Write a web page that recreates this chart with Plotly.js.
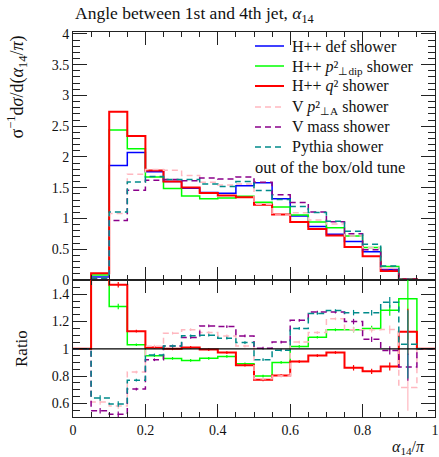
<!DOCTYPE html>
<html><head><meta charset="utf-8">
<script src="https://cdn.plot.ly/plotly-3.0.1.min.js"></script>
<style>html,body{margin:0;padding:0;background:#fff}#chart{width:439px;height:457px}</style>
</head><body><div id="chart"></div>
<script>
// left edges of the 20 bins in alpha14/pi
const binLow = [0,0.05,0.1,0.15,0.2,0.25,0.3,0.35,0.4,0.45,0.5,0.55,0.6,0.65,0.7,0.75,0.8,0.85,0.9,0.95];
const binHigh = 1.0;

// normalised distributions, one value per bin
const hppDef   = [0,0.05,1.86,2.07,1.76,1.60,1.49,1.42,1.41,1.53,1.58,1.32,1.04,0.87,0.745,0.625,0.46,0.17,0.012,0];
const hppPtDip = [0,0.08,2.437,2.132,1.672,1.488,1.363,1.321,1.332,1.362,1.264,1.188,1.058,0.944,0.849,0.713,0.529,0.218,0.0164,0];
const hppQ2    = [0,0.11,2.734,2.339,1.778,1.60,1.505,1.413,1.372,1.346,1.221,1.063,0.943,0.827,0.725,0.538,0.384,0.148,0.0135,0];
const vPtA     = [0,0.0305,1.079,1.718,1.795,1.784,1.699,1.590,1.544,1.561,1.232,1.056,1.092,0.974,0.909,0.713,0.524,0.194,0.0086,0];
const vMass    = [0,0.0273,0.967,1.459,1.619,1.632,1.614,1.659,1.640,1.675,1.588,1.386,1.258,1.105,0.946,0.75,0.492,0.168,0.0104,0];
const pythia   = [0,0.032,1.107,1.594,1.681,1.632,1.632,1.562,1.520,1.600,1.454,1.307,1.196,1.096,0.954,0.791,0.582,0.228,0.0124,0];

// uncertainties on the ratios (per bin)
const errPtDip = [0,0.02,0.02,0.01,0.01,0.01,0.01,0.01,0.01,0.01,0.01,0.01,0.01,0.01,0.01,0.02,0.02,0.04,0.30,0];
const errQ2    = [0,0.02,0.02,0.01,0.01,0.01,0.01,0.01,0.01,0.01,0.01,0.01,0.01,0.01,0.01,0.02,0.02,0.03,0.17,0];
const errPtA   = [0,0.02,0.02,0.01,0.01,0.01,0.01,0.01,0.01,0.01,0.01,0.01,0.01,0.01,0.01,0.02,0.02,0.03,0.17,0];
const errMass  = [0,0.02,0.02,0.01,0.01,0.01,0.01,0.01,0.01,0.01,0.01,0.01,0.01,0.01,0.01,0.02,0.02,0.03,0.10,0];
const errPy    = [0,0.02,0.02,0.01,0.01,0.01,0.01,0.01,0.01,0.01,0.01,0.01,0.01,0.01,0.01,0.02,0.02,0.04,0.25,0];

const names = [
  "H++ def shower",
  "H++ <i>p</i>²<sub>⊥dip</sub> shower",
  "H++ <i>q</i>² shower",
  "V <i>p</i>²<sub>⊥A</sub> shower",
  "V mass shower",
  "Pythia shower"
];
const legendNote = "out of the box/old tune";
const colors = ["#0000ff","#00ff00","#ff0000","#ffb8c0","#8b008b","#008b8b"];
const dashes = ["solid","solid","solid","6px,4px","6px,4px","6px,4px"];
const widths = [1.5,1.5,2,1.5,1.5,1.5];
const series = [hppDef,hppPtDip,hppQ2,vPtA,vMass,pythia];
const errs = [null,errPtDip,errQ2,errPtA,errMass,errPy];

const xs = binLow.concat([binHigh]);
const centers = binLow.map((v,i)=> (v + (i+1<binLow.length?binLow[i+1]:binHigh))/2);
function stepY(a){ return a.concat([a[a.length-1]]); }
function ratio(a){ return a.map((v,i)=> hppDef[i]===0 ? 1 : v/hppDef[i]); }

const traces = [];
series.forEach((s,k)=>{
  traces.push({x: xs, y: stepY(s), xaxis:'x', yaxis:'y', mode:'lines', line:{shape:'hv', color:colors[k], width:widths[k], dash:dashes[k]}, name:names[k], showlegend:false});
});
series.forEach((s,k)=>{
  if(k===0) return;
  const r = ratio(s);
  traces.push({x: xs, y: stepY(r), xaxis:'x2', yaxis:'y2', mode:'lines', line:{shape:'hv', color:colors[k], width:widths[k], dash:dashes[k]}, showlegend:false, hoverinfo:'skip'});
  traces.push({x: centers, y: r, xaxis:'x2', yaxis:'y2', mode:'markers', marker:{size:1, color:colors[k]}, error_y:{type:'data', array:errs[k], visible:true, color:colors[k], thickness:1.2, width:0}, showlegend:false, hoverinfo:'skip'});
});

const F = "Liberation Serif, Times New Roman, serif";
const axCommon = {ticks:'inside', mirror:'allticks', showline:true, linecolor:'#222', linewidth:1, tickcolor:'#222', showgrid:false, zeroline:false, tickfont:{family:F, size:14, color:'#111'}};

// plot-area geometry in pixels (for paper coordinates of legend/labels)
const L = 73, W = 362, B = 417, H = 385;
const px = v => (v - L)/W;
const py = v => (B - v)/H;

const shapes = [
  {type:'line', xref:'x2', yref:'y2', x0:0, x1:1, y0:1, y1:1, line:{color:'#000', width:1.2}}
];
const annotations = [];
const rowY = [46,66,86,107,127,147];
const rowShift = [0,1.5,0,0.5,0,0];
names.forEach((n,k)=>{
  shapes.push({type:'line', xref:'paper', yref:'paper', x0:px(255), x1:px(284), y0:py(rowY[k]), y1:py(rowY[k]), line:{color:colors[k], width:widths[k], dash:dashes[k]}});
  annotations.push({text:n, xref:'paper', yref:'paper', x:px(290), y:py(rowY[k] + rowShift[k]), xanchor:'left', yanchor:'middle', showarrow:false, font:{family:F, size:16, color:'#111'}});
});
annotations.push({text:legendNote, xref:'paper', yref:'paper', x:px(253), y:py(167), xanchor:'left', yanchor:'middle', showarrow:false, font:{family:F, size:16.5, color:'#111'}});
annotations.push({text:"σ<sup>−1</sup>d<i>σ</i>/d(<i>α</i><sub>14</sub>/<i>π</i>)", xref:'paper', yref:'paper', x:px(17), y:py(34), xanchor:'center', yanchor:'top', textangle:-90, showarrow:false, font:{family:F, size:18, color:'#111'}});
annotations.push({text:"Ratio", xref:'paper', yref:'paper', x:px(21), y:py(349), xanchor:'center', yanchor:'middle', textangle:-90, showarrow:false, font:{family:F, size:17, color:'#111'}});
annotations.push({text:"<i>α</i><sub>14</sub>/<i>π</i>", xref:'paper', yref:'paper', x:px(427), y:py(447), xanchor:'right', yanchor:'middle', showarrow:false, font:{family:F, size:16, color:'#111'}});

const layout = {
  width:439, height:457,
  margin:{l:73, r:4, t:32, b:40},
  paper_bgcolor:'#fff', plot_bgcolor:'#fff',
  font:{family:F, size:14, color:'#111'},
  title:{text:"Angle between 1st and 4th jet, <i>α</i><sub>14</sub>", x:75/439, xanchor:'left', y:1-13/457, yanchor:'middle', font:{family:F, size:17.5, color:'#111'}},
  showlegend:false,
  xaxis: Object.assign({}, axCommon, {domain:[0,1], anchor:'y', range:[0,1], dtick:0.2, ticklen:13, showticklabels:false, minor:{dtick:0.05, ticklen:5, ticks:'inside', tickcolor:'#222'}}),
  yaxis: Object.assign({}, axCommon, {domain:[py(280),1], anchor:'x', range:[0,4.03], tickvals:[0,0.5,1,1.5,2,2.5,3,3.5,4], ticklen:14, minor:{dtick:0.1, ticklen:7, ticks:'inside', tickcolor:'#222'}}),
  xaxis2: Object.assign({}, axCommon, {domain:[0,1], anchor:'y2', matches:'x', range:[0,1], dtick:0.2, ticklen:13, minor:{dtick:0.05, ticklen:5, ticks:'inside', tickcolor:'#222'}}),
  yaxis2: Object.assign({}, axCommon, {domain:[0,py(280)], anchor:'x2', range:[0.5,1.505], tickvals:[0.6,0.8,1,1.2,1.4], ticklen:14, minor:{dtick:0.05, ticklen:7, ticks:'inside', tickcolor:'#222'}}),
  shapes: shapes,
  annotations: annotations
};

Plotly.newPlot('chart', traces, layout, {staticPlot:true, displayModeBar:false});
</script>
</body></html>
